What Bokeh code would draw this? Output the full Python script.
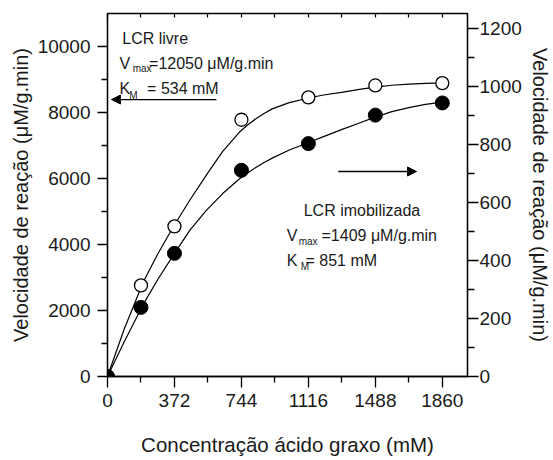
from bokeh.plotting import figure
from bokeh.models import Range1d, LinearAxis, Label, Arrow, NormalHead, FixedTicker
from bokeh.embed import file_html
from bokeh.resources import INLINE

# ---- data ----
conc = [0, 186, 372, 744, 1116, 1488, 1860]
free_rate = [0, 2760, 4550, 7780, 8460, 8820, 8890]          # LCR livre, left axis
immob_rate = [0, 238, 424, 710, 802, 900, 942]               # LCR imobilizada, right axis

curve_x = [0, 93, 200, 280, 365, 457, 549, 640, 732, 778, 824, 870, 915, 1010, 1117,
           1200, 1300, 1400, 1486, 1580, 1674, 1767, 1860]
free_curve = [0, 1440, 2880, 3720, 4530, 5340, 6100, 6820, 7400, 7620, 7810, 7970, 8110,
              8300, 8440, 8530, 8610, 8700, 8770, 8825, 8862, 8885, 8900]
immob_curve = [0, 120, 250, 335, 417, 503, 572, 630, 680, 701, 720, 737, 752, 780, 806,
               826, 850, 873, 893, 912, 926, 937, 945]

x_ticks = [0, 372, 744, 1116, 1488, 1860]
x_minor = [186, 558, 930, 1302, 1674]
left_ticks = [0, 2000, 4000, 6000, 8000, 10000]
left_minor = [1000, 3000, 5000, 7000, 9000]
right_ticks = [0, 200, 400, 600, 800, 1000, 1200]
right_minor = [100, 300, 500, 700, 900, 1100]
top_ticks = [0, 186, 372, 558, 744, 930, 1116, 1302, 1488, 1674, 1860]

FONT = "Liberation Sans"
TXT = "#1a1a1a"

p = figure(width=553, height=460, x_range=Range1d(0, 2000), y_range=Range1d(0, 11000),
           output_backend="svg", toolbar_location=None,
           min_border_left=107, min_border_right=83, min_border_top=13, min_border_bottom=84)
p.extra_y_ranges = {"right": Range1d(0, 1250)}
p.grid.visible = False
p.outline_line_color = "black"
p.outline_line_width = 1.3
p.background_fill_color = "white"
p.border_fill_color = "white"


def style_axis(ax, major_out, minor_out):
    ax.axis_line_color = "black"
    ax.axis_line_width = 1.3
    ax.major_tick_line_color = "black"
    ax.minor_tick_line_color = "black"
    ax.major_tick_line_width = 1.3
    ax.minor_tick_line_width = 1.3
    ax.major_tick_out = major_out
    ax.major_tick_in = 0
    ax.minor_tick_out = minor_out
    ax.minor_tick_in = 0
    ax.major_label_text_font = FONT
    ax.major_label_text_font_size = "19px"
    ax.major_label_text_color = TXT
    ax.axis_label_text_font = FONT
    ax.axis_label_text_font_size = "20px"
    ax.axis_label_text_font_style = "normal"
    ax.axis_label_text_color = TXT


# bottom axis
xa = p.xaxis[0]
xa.ticker = FixedTicker(ticks=x_ticks, minor_ticks=x_minor)
style_axis(xa, 11, 6)
xa.major_label_standoff = 6
xa.axis_label = "Concentração ácido graxo (mM)"
xa.axis_label_text_font_size = "20.5px"
xa.axis_label_standoff = 23

# left axis
ya = p.yaxis[0]
ya.ticker = FixedTicker(ticks=left_ticks, minor_ticks=left_minor)
style_axis(ya, 10, 6)
ya.major_label_standoff = 7
ya.axis_label = "Velocidade de reação (μM/g.min)"
ya.axis_label_standoff = 3

# right axis
ra = LinearAxis(y_range_name="right", ticker=FixedTicker(ticks=right_ticks, minor_ticks=right_minor))
style_axis(ra, 11, 7)
ra.major_label_standoff = 1
ra.axis_label = "Velocidade de reação (μM/g.min)"
ra.axis_label_standoff = 4
p.add_layout(ra, "right")

# top axis, inward ticks, no labels
ta = LinearAxis(ticker=FixedTicker(ticks=top_ticks))
ta.axis_line_color = "black"
ta.major_tick_line_color = "black"
ta.major_tick_line_width = 1.2
ta.major_tick_in = 4
ta.major_tick_out = 0
ta.minor_tick_line_color = None
ta.major_label_text_font_size = "0px"
ta.major_label_text_alpha = 0
p.add_layout(ta, "above")

# curves
p.line(curve_x, free_curve, line_color="black", line_width=1.2)
p.line(curve_x, immob_curve, line_color="black", line_width=1.2, y_range_name="right")

# points
p.scatter(conc, free_rate, marker="circle", size=13, fill_color="white",
          line_color="black", line_width=1.3)
p.scatter(conc, immob_rate, marker="circle", size=14, fill_color="black",
          line_color="black", y_range_name="right")


def label(x, y, text, size="16px", **kw):
    p.add_layout(Label(x=x, y=y, text=text, text_font=FONT, text_font_size=size,
                       text_color=TXT, text_baseline="alphabetic", **kw))


# LCR livre annotation
label(82, 10240, "LCR livre")
label(66, 9485, "V")
label(140, 9330, "max", size="10px")
label(231, 9485, "=12050 μM/g.min")
label(66, 8727, "K")
label(121, 8515, "M", size="10px")
label(220, 8727, "= 534 mM")

# LCR imobilizada annotation
label(1090, 5030, "LCR imobilizada")
label(996, 4272, "V")
label(1062, 4090, "max", size="10px")
label(1189, 4272, "=1409 μM/g.min")
label(996, 3515, "K")
label(1073, 3333, "M", size="10px")
label(1100, 3515, "= 851 mM")

# arrows
p.add_layout(Arrow(x_start=605, y_start=8393, x_end=22, y_end=8393, line_width=1.3,
                   line_color="black",
                   end=NormalHead(size=9, fill_color="black", line_color="black")))
p.add_layout(Arrow(x_start=1282, y_start=6212, x_end=1717, y_end=6212, line_width=1.3,
                   line_color="black",
                   end=NormalHead(size=9, fill_color="black", line_color="black")))

open("out.html", "w").write(file_html(p, INLINE))
